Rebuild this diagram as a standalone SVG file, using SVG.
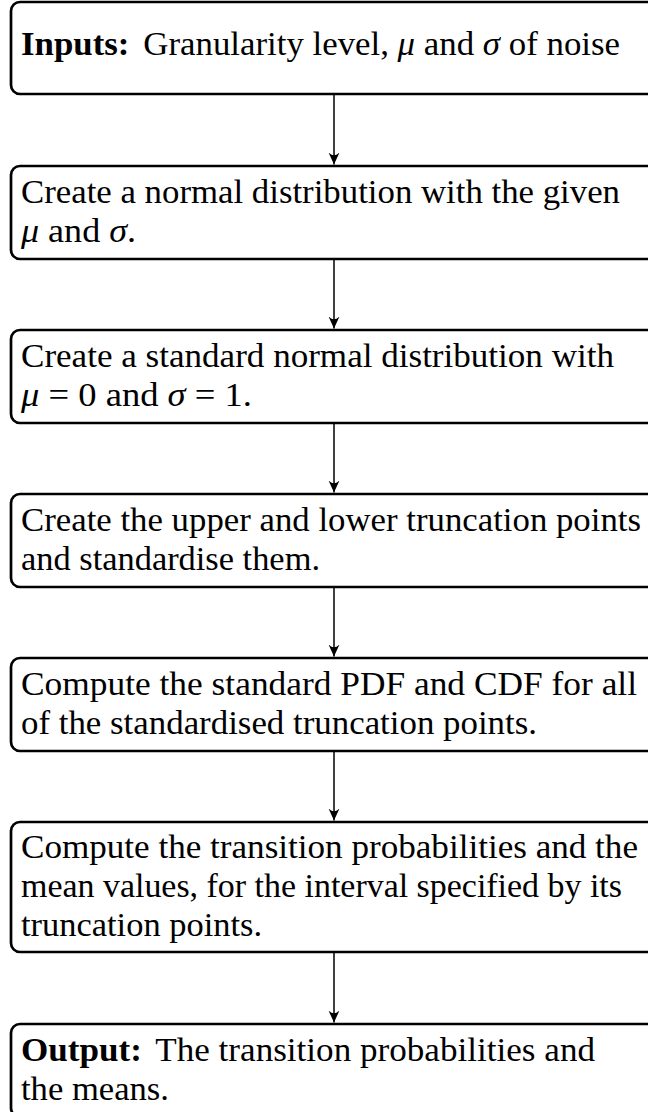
<svg xmlns="http://www.w3.org/2000/svg" width="648" height="1112" viewBox="0 0 648 1112">
  <style>
    .box { fill: #ffffff; stroke: #000000; stroke-width: 2.7; }
    .txt { font-family: "Liberation Serif", "DejaVu Serif", serif; font-size: 34px; fill: #000000; }
    .b { font-weight: bold; }
    .m { font-style: italic; }
    .edge { stroke: #000000; stroke-width: 1.5; fill: none; marker-end: url(#tip); }
  </style>
  <defs>
    <!-- curved-back arrow tip, drawn in user units -->
    <marker id="tip" markerUnits="userSpaceOnUse" markerWidth="16" markerHeight="16" refX="12" refY="7" orient="auto">
      <path d="M12,7 L0,1.5 Q5.5,7 0,12.5 Z" fill="#000000"/>
    </marker>
  </defs>
  <rect width="648" height="1112" fill="#ffffff"/>

  <!-- flow connectors -->
  <g id="connectors">
    <line class="edge" x1="334" y1="95" x2="334" y2="164.5"/>
    <line class="edge" x1="334" y1="260" x2="334" y2="328.5"/>
    <line class="edge" x1="334" y1="424" x2="334" y2="492.5"/>
    <line class="edge" x1="334" y1="588" x2="334" y2="656.5"/>
    <line class="edge" x1="334" y1="752" x2="334" y2="820.5"/>
    <line class="edge" x1="334" y1="953" x2="334" y2="1022.5"/>
  </g>

  <g id="inputs">
    <rect class="box" x="11" y="2" width="700" height="92" rx="9"/>
    <text class="txt" x="21" y="55" textLength="599" lengthAdjust="spacingAndGlyphs"><tspan class="b">Inputs:</tspan><tspan dx="5"> Granularity level, </tspan><tspan class="m">μ</tspan> and <tspan class="m">σ</tspan> of noise</text>
  </g>

  <g id="step-normal">
    <rect class="box" x="11" y="166" width="700" height="93" rx="9"/>
    <text class="txt" x="21" y="203" textLength="599" lengthAdjust="spacingAndGlyphs">Create a normal distribution with the given</text>
    <text class="txt" x="21" y="242" textLength="115" lengthAdjust="spacingAndGlyphs"><tspan class="m">μ</tspan> and <tspan class="m">σ</tspan>.</text>
  </g>

  <g id="step-standard">
    <rect class="box" x="11" y="330" width="700" height="93" rx="9"/>
    <text class="txt" x="21" y="367" textLength="593" lengthAdjust="spacingAndGlyphs">Create a standard normal distribution with</text>
    <text class="txt" x="21" y="406" textLength="231" lengthAdjust="spacingAndGlyphs"><tspan class="m">μ</tspan> = 0 and <tspan class="m">σ</tspan> = 1.</text>
  </g>

  <g id="step-truncation">
    <rect class="box" x="11" y="494" width="700" height="93" rx="9"/>
    <text class="txt" x="21" y="531" textLength="620" lengthAdjust="spacingAndGlyphs">Create the upper and lower truncation points</text>
    <text class="txt" x="21" y="570" textLength="299" lengthAdjust="spacingAndGlyphs">and standardise them.</text>
  </g>

  <g id="step-pdf-cdf">
    <rect class="box" x="11" y="658" width="700" height="93" rx="9"/>
    <text class="txt" x="21" y="695" textLength="616" lengthAdjust="spacingAndGlyphs">Compute the standard PDF and CDF for all</text>
    <text class="txt" x="21" y="734" textLength="516" lengthAdjust="spacingAndGlyphs">of the standardised truncation points.</text>
  </g>

  <g id="step-transition">
    <rect class="box" x="11" y="822" width="700" height="130" rx="9"/>
    <text class="txt" x="21" y="858" textLength="617" lengthAdjust="spacingAndGlyphs">Compute the transition probabilities and the</text>
    <text class="txt" x="21" y="897" textLength="601" lengthAdjust="spacingAndGlyphs">mean values, for the interval specified by its</text>
    <text class="txt" x="21" y="936" textLength="241" lengthAdjust="spacingAndGlyphs">truncation points.</text>
  </g>

  <g id="output">
    <rect class="box" x="11" y="1024" width="700" height="93" rx="9"/>
    <text class="txt" x="21" y="1061" textLength="574" lengthAdjust="spacingAndGlyphs"><tspan class="b">Output:</tspan><tspan dx="5"> The transition probabilities and</tspan></text>
    <text class="txt" x="21" y="1100" textLength="148" lengthAdjust="spacingAndGlyphs">the means.</text>
  </g>
</svg>
